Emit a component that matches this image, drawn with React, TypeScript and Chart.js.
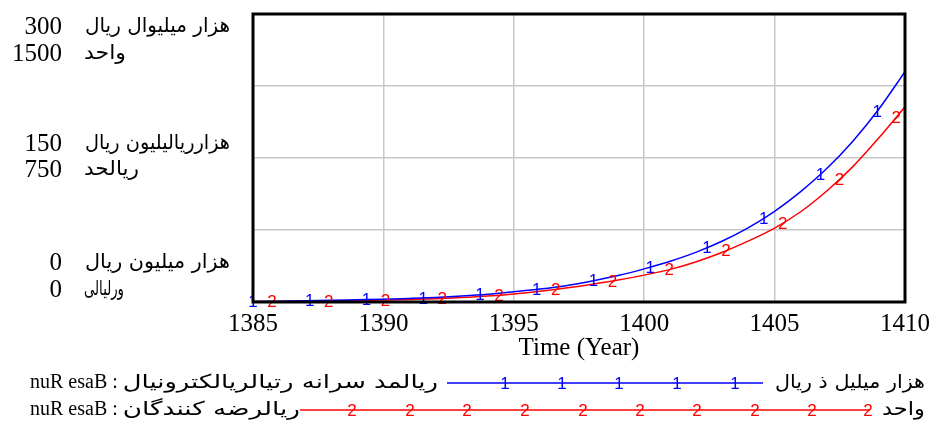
import React, { useEffect, useRef } from 'react';
import { Chart, registerables } from 'chart.js';

Chart.register(...registerables);

// ---- data ----
const years = [1385, 1386, 1387, 1388, 1389, 1390, 1391, 1392, 1393, 1394, 1395, 1396, 1397, 1398, 1399, 1400, 1401, 1402, 1403, 1404, 1405, 1406, 1407, 1408, 1409, 1410];
// series 1 (blue) – thousand billion rial, left scale 0..300
const seriesOne = [0.5, 0.8, 1.2, 1.7, 2.3, 2.9, 3.7, 4.7, 6.2, 8.1, 10.7, 13.5, 17, 21.8, 27.5, 34.5, 42.5, 52, 63.5, 77.5, 94.5, 115, 139, 167.5, 201, 240];
// series 2 (red) – units, left scale 0..1500
const seriesTwo = [2, 3, 4, 6, 8, 10, 13, 17, 23, 31, 42, 56, 73, 93, 115, 140, 170, 210, 259, 318, 385, 470, 578, 705, 855, 1017];

const xTickValues = [1385, 1390, 1395, 1400, 1405, 1410];
const xTitle = 'Time (Year)';

const axisOneLabels = ['300', '150', '0'];
const axisOneUnits = ['هزار میلیوال ریال', 'هزارریالیلیون ریال', 'هزار میلیون ریال'];
const axisTwoLabels = ['1500', '750', '0'];
const axisTwoUnits = ['واحد', 'ریالحد', 'ورلیالی'];

const legendRun = 'nuR esaB :';
const legendOneName = 'ریالمد سرانه رتیالریالکترونیال';
const legendOneUnit = 'هزار میلیل ذ ریال';
const legendTwoName = 'ریالرضه کنندگان';
const legendTwoUnit = 'واحد';

const SERIF = "'Liberation Serif', 'Times New Roman', serif";
const SANS = "'DejaVu Sans', 'Liberation Sans', sans-serif";
const ARIAL = "'Liberation Sans', Arial, sans-serif";

function interp(xs: number[], ys: number[], x: number) {
  for (let i = 0; i < xs.length - 1; i++) {
    if (x >= xs[i] && x <= xs[i + 1]) {
      const t = (x - xs[i]) / (xs[i + 1] - xs[i]);
      return ys[i] + t * (ys[i + 1] - ys[i]);
    }
  }
  return ys[ys.length - 1];
}

function drawFit(ctx: CanvasRenderingContext2D, text: string, x: number, y: number, width: number, font: string) {
  ctx.save();
  ctx.font = font;
  ctx.textAlign = 'left';
  ctx.textBaseline = 'middle';
  const w = ctx.measureText(text).width || 1;
  ctx.translate(x, y);
  ctx.scale(width / w, 1);
  ctx.fillText(text, 0, 0);
  ctx.restore();
}

const decor = {
  id: 'vensimDecor',
  afterDatasetsDraw(chart: any) {
    const { ctx, chartArea, scales } = chart;
    const xs = scales.x;
    // series markers
    const markerSets = [
      { data: seriesOne, axis: scales.y, color: '#0000ff', label: '1', start: 1385 },
      { data: seriesTwo, axis: scales.y2, color: '#ff0000', label: '2', start: 1385.725 },
    ];
    const step = 2.176;
    ctx.save();
    ctx.font = `17px ${ARIAL}`;
    ctx.textAlign = 'center';
    ctx.textBaseline = 'middle';
    for (const m of markerSets) {
      ctx.fillStyle = m.color;
      for (let yr = m.start; yr <= 1410.01; yr += step) {
        const v = interp(years, m.data, yr);
        ctx.fillText(m.label, xs.getPixelForValue(yr), m.axis.getPixelForValue(v) + 1);
      }
    }
    ctx.restore();
    // frame
    ctx.save();
    ctx.strokeStyle = '#000';
    ctx.lineWidth = 3;
    ctx.strokeRect(chartArea.left, chartArea.top, chartArea.right - chartArea.left, chartArea.bottom - chartArea.top);
    ctx.restore();
  },
  afterDraw(chart: any) {
    const { ctx, scales } = chart;
    const y = scales.y;
    const anchors = [
      [y.getPixelForValue(300) + 13, y.getPixelForValue(300) + 40],
      [y.getPixelForValue(150) - 14, y.getPixelForValue(150) + 12],
      [y.getPixelForValue(0) - 39, y.getPixelForValue(0) - 12],
    ];
    const unitWidthsOne = [145, 145, 145];
    const unitWidthsTwo = [42, 55, 40];
    ctx.save();
    ctx.fillStyle = '#000';
    for (let i = 0; i < 3; i++) {
      ctx.font = `25px ${SERIF}`;
      ctx.textAlign = 'right';
      ctx.textBaseline = 'middle';
      ctx.fillText(axisOneLabels[i], 62, anchors[i][0]);
      ctx.fillText(axisTwoLabels[i], 62, anchors[i][1]);
      drawFit(ctx, axisOneUnits[i], 85, anchors[i][0], unitWidthsOne[i], `20px ${SANS}`);
      drawFit(ctx, axisTwoUnits[i], 84, anchors[i][1], unitWidthsTwo[i], `20px ${SANS}`);
    }

    // legend
    const rows = [
      { y: 383, name: legendOneName, nameEnd: 438, unit: legendOneUnit, unitX: 775, unitW: 150, lineX0: 447, lineX1: 763, color: '#0000ff', label: '1', marks: [505, 562, 619, 677, 735] },
      { y: 410, name: legendTwoName, nameEnd: 300, unit: legendTwoUnit, unitX: 882, unitW: 43, lineX0: 300, lineX1: 870, color: '#ff0000', label: '2', marks: [352, 410, 467, 525, 583, 640, 697, 755, 812, 868] },
    ];
    for (const r of rows) {
      ctx.fillStyle = '#000';
      ctx.font = `20px ${SERIF}`;
      ctx.textAlign = 'left';
      ctx.textBaseline = 'middle';
      ctx.fillText(legendRun, 30, r.y);
      const runW = ctx.measureText(legendRun + ' ').width;
      drawFit(ctx, r.name, 30 + runW, r.y, r.nameEnd - (30 + runW), `19px ${SANS}`);
      drawFit(ctx, r.unit, r.unitX, r.y, r.unitW, `19px ${SANS}`);
      ctx.strokeStyle = r.color;
      ctx.lineWidth = 1.5;
      ctx.beginPath();
      ctx.moveTo(r.lineX0, r.y);
      ctx.lineTo(r.lineX1, r.y);
      ctx.stroke();
      ctx.fillStyle = r.color;
      ctx.font = `17px ${ARIAL}`;
      ctx.textAlign = 'center';
      for (const mx of r.marks) ctx.fillText(r.label, mx, r.y + 1);
    }
    ctx.restore();
  },
};

export default function App() {
  const ref = useRef<HTMLCanvasElement | null>(null);
  useEffect(() => {
    if (!ref.current) return;
    const chart = new Chart(ref.current, {
      type: 'line',
      data: {
        datasets: [
          {
            label: legendOneName,
            data: years.map((x, i) => ({ x, y: seriesOne[i] })),
            borderColor: '#0000ff',
            borderWidth: 1.5,
            pointRadius: 0,
            cubicInterpolationMode: 'monotone',
            yAxisID: 'y',
          },
          {
            label: legendTwoName,
            data: years.map((x, i) => ({ x, y: seriesTwo[i] })),
            borderColor: '#ff0000',
            borderWidth: 1.5,
            pointRadius: 0,
            cubicInterpolationMode: 'monotone',
            yAxisID: 'y2',
          },
        ],
      },
      options: {
        responsive: false,
        animation: false,
        events: [],
        layout: { padding: { left: 253, right: 29, top: 14, bottom: 0 } },
        plugins: { legend: { display: false }, tooltip: { enabled: false }, title: { display: false } },
        scales: {
          x: {
            type: 'linear',
            min: 1385,
            max: 1410,
            afterBuildTicks: (s: any) => { s.ticks = xTickValues.map((v) => ({ value: v })); },
            afterFit: (s: any) => { s.height = 121; },
            ticks: {
              autoSkip: false,
              maxRotation: 0,
              padding: 7,
              color: '#000',
              font: { family: SERIF, size: 25 },
              callback: (v: any) => String(v),
            },
            grid: { color: '#c8c8c8', lineWidth: 1.5, drawTicks: false },
            border: { display: false },
            title: { display: true, text: xTitle, color: '#000', font: { family: SERIF, size: 25 }, padding: { top: 0, bottom: 60 } },
          },
          y: {
            min: 0,
            max: 300,
            afterFit: (s: any) => { s.width = 0; },
            ticks: { display: false, stepSize: 75 },
            grid: { color: '#c8c8c8', lineWidth: 1.5, drawTicks: false },
            border: { display: false },
          },
          y2: { min: 0, max: 1500, display: false },
        },
      },
      plugins: [decor],
    } as any);
    return () => chart.destroy();
  }, []);
  return (
    <div style={{ position: 'fixed', left: 0, top: 0, width: 937, height: 423, background: '#fff' }}>
      <canvas ref={ref} width={937} height={423} style={{ display: 'block' }} />
    </div>
  );
}
